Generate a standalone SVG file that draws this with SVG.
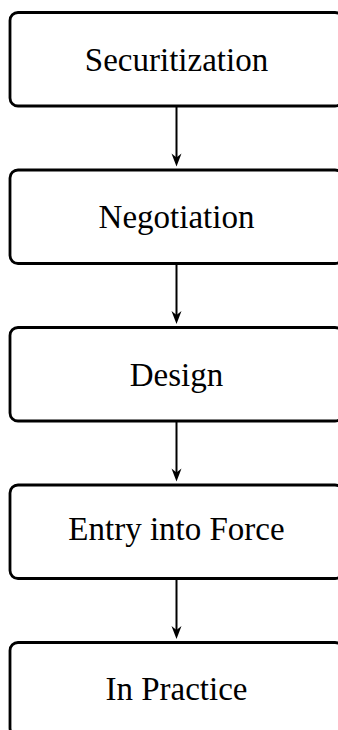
<svg xmlns="http://www.w3.org/2000/svg" width="338" height="730" viewBox="0 0 338 730">
<style>
.box{fill:#fff;stroke:#000;stroke-width:2.8}
.lbl{font-family:'Liberation Serif','Times New Roman',serif;font-size:33px;fill:#000;text-anchor:middle}
.edge{stroke:#000;stroke-width:2;fill:none}
.head{fill:#000}
</style>
<rect width="338" height="730" fill="#fff"/>
<g id="connectors">
<path class="edge" d="M176.5,106 V162" />
<path class="edge" d="M176.5,263.5 V319.5" />
<path class="edge" d="M176.5,421 V477" />
<path class="edge" d="M176.5,578.5 V634.5" />
<path class="head" d="M176.5,166.5 L171.5,153.5 L176.5,157.5 L181.5,153.5 Z"/>
<path class="head" d="M176.5,324 L171.5,311 L176.5,315 L181.5,311 Z"/>
<path class="head" d="M176.5,481.5 L171.5,468.5 L176.5,472.5 L181.5,468.5 Z"/>
<path class="head" d="M176.5,639 L171.5,626 L176.5,630 L181.5,626 Z"/>
</g>
<g id="n1"><rect class="box" x="10" y="12.5" width="333" height="93.5" rx="8"/><text class="lbl" x="176.5" y="70.5">Securitization</text></g>
<g id="n2"><rect class="box" x="10" y="170" width="333" height="93.5" rx="8"/><text class="lbl" x="176.5" y="228">Negotiation</text></g>
<g id="n3"><rect class="box" x="10" y="327.5" width="333" height="93.5" rx="8"/><text class="lbl" x="176.5" y="385.5">Design</text></g>
<g id="n4"><rect class="box" x="10" y="485" width="333" height="93.5" rx="8"/><text class="lbl" x="176.5" y="540">Entry into Force</text></g>
<g id="n5"><rect class="box" x="10" y="642.5" width="333" height="93.5" rx="8"/><text class="lbl" x="176.5" y="700">In Practice</text></g>
</svg>
